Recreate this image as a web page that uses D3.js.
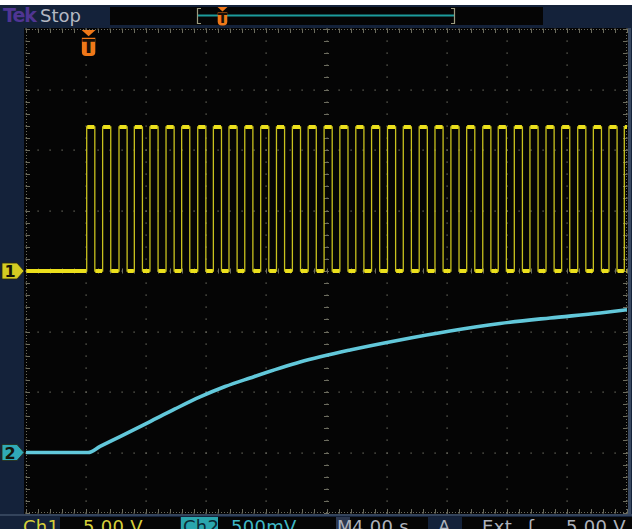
<!DOCTYPE html>
<html>
<head>
<meta charset="utf-8">
<script src="https://cdn.jsdelivr.net/npm/d3@7"></script>
<style>
	body { margin: 0; background: #ffffff; }
	svg { display: block; }
	text { font-family: "DejaVu Sans", sans-serif; }
</style>
</head>
<body>
<div id="scope"></div>
<script>

// time base: 4.00 s/div, trigger one division from the left edge
var timeTicks = [-4, 0, 4, 8, 12, 16, 20, 24, 28, 32, 36];
var divTicks = [-4, -3, -2, -1, 0, 1, 2, 3, 4];

// Ch1 (5.00 V/div): rising edges of the pulse train, seconds after trigger
var ch1Rising = [0.04, 1.10, 2.19, 3.21, 4.25, 5.32, 6.36, 7.43, 8.47, 9.51,
	10.56, 11.62, 12.67, 13.73, 14.78, 15.84, 16.89, 17.95, 19.00, 20.06,
	21.11, 22.17, 23.22, 24.28, 25.33, 26.40, 27.43, 28.50, 29.54, 30.61,
	31.65, 32.72, 33.76, 34.80, 35.82];
var ch1HighTime = 0.54;
var ch1Low = 0;
var ch1High = 11.9;
var ch1VoltsPerDiv = 5;
var ch1Offset = 0;

// Ch2 (500 mV/div): slow rising curve
var ch2Time = [-4, 0.13, 0.93, 2.26, 4.26, 5.92, 7.58, 9.25, 10.91, 14.24, 17.57, 20.89, 24.22, 27.55, 30.88, 34.21, 36];
var ch2Volts = [0, 0, 0.05, 0.132, 0.256, 0.36, 0.459, 0.545, 0.616, 0.748, 0.847, 0.93, 1.004, 1.066, 1.112, 1.153, 1.18];
var ch2VoltsPerDiv = 0.5;
var ch2Offset = -3;

var W = 632, H = 529;
var grid = { left: 26, right: 627, top: 29, bottom: 513 };
var navy = "#14223a";

var svg = d3.select("#scope")
	.append("svg")
	.attr("width", W)
	.attr("height", H);

svg.append("rect")
	.attr("x", 0).attr("y", 5)
	.attr("width", W).attr("height", H - 5)
	.attr("fill", navy);

var x = d3.scaleLinear()
	.domain([-4, 36])
	.range([grid.left, grid.right]);

var yDiv = d3.scaleLinear()
	.domain([-4, 4])
	.range([grid.bottom, grid.top]);

// ---- top status bar
svg.append("rect")
	.attr("x", 110).attr("y", 7)
	.attr("width", 433).attr("height", 18)
	.attr("fill", "#050505");

svg.append("text")
	.attr("x", 3).attr("y", 22)
	.style("font-size", "19px")
	.style("font-weight", "bold")
	.style("letter-spacing", "-1px")
	.attr("fill", "#4f3593")
	.text("Tek");

svg.append("text")
	.attr("x", 40).attr("y", 22)
	.style("font-size", "18px")
	.attr("fill", "#b4b8c2")
	.text("Stop");

svg.append("line")
	.attr("x1", 198).attr("x2", 455)
	.attr("y1", 15.5).attr("y2", 15.5)
	.attr("stroke", "#1c9c9c")
	.attr("stroke-width", 2);

svg.append("path")
	.attr("d", "M201,8.5 H197.5 V23.5 H201 M451,8.5 H454.5 V23.5 H451")
	.attr("fill", "none")
	.attr("stroke", "#9c9c80")
	.attr("stroke-width", 1.2);

function triggerMark(g, cx, top, size) {
	g.append("path")
		.attr("d", "M" + (cx - size * 0.5) + "," + top + " H" + (cx + size * 0.5) + " L" + cx + "," + (top + size * 0.45) + " Z")
		.attr("fill", "#f07818");
	var bx = cx - size * 0.48, by = top + size * 0.55, bw = size * 0.96, bh = size * 1.3;
	g.append("path")
		.attr("d", "M" + bx + "," + by + " H" + (bx + bw) + " V" + (by + bh - 4) +
			" Q" + (bx + bw) + "," + (by + bh) + " " + (bx + bw - 4) + "," + (by + bh) +
			" H" + (bx + 4) + " Q" + bx + "," + (by + bh) + " " + bx + "," + (by + bh - 4) + " Z")
		.attr("fill", "#f07818");
	g.append("text")
		.attr("x", cx).attr("y", by + bh - 3)
		.attr("text-anchor", "middle")
		.style("font-size", (bh + 1) + "px")
		.style("font-weight", "bold")
		.attr("fill", "#1a1008")
		.text("T");
}

triggerMark(svg.append("g"), 222.5, 7, 10);

// ---- graticule
svg.append("rect")
	.attr("x", grid.left - 2).attr("y", grid.top - 1)
	.attr("width", grid.right - grid.left + 3).attr("height", grid.bottom - grid.top + 2)
	.attr("fill", "#050505");

var gridG = svg.append("g").attr("fill", "#77776a");
var minor = d3.range(-4, 36.01, 0.8);
var minorY = d3.range(-4, 4.01, 0.2);

// dotted division lines
timeTicks.forEach(function (t) {
	minorY.forEach(function (d) {
		gridG.append("rect")
			.attr("x", Math.round(x(t)) - 0.5).attr("y", Math.round(yDiv(d)) - 0.5)
			.attr("width", 1.2).attr("height", 1.2);
	});
});
divTicks.forEach(function (d) {
	minor.forEach(function (t) {
		gridG.append("rect")
			.attr("x", Math.round(x(t)) - 0.5).attr("y", Math.round(yDiv(d)) - 0.5)
			.attr("width", 1.2).attr("height", 1.2);
	});
});

// border and centre lines with minor ticks
var tickG = svg.append("g")
	.attr("stroke", "#6c6c5e")
	.attr("stroke-width", 1);

[grid.top + 0.5, grid.bottom - 0.5].forEach(function (yy) {
	tickG.append("line")
		.attr("x1", grid.left).attr("x2", grid.right)
		.attr("y1", yy).attr("y2", yy)
		.attr("stroke-dasharray", "1,2");
});
[grid.left + 0.5, grid.right - 0.5].forEach(function (xx) {
	tickG.append("line")
		.attr("x1", xx).attr("x2", xx)
		.attr("y1", grid.top).attr("y2", grid.bottom)
		.attr("stroke-dasharray", "1,2");
});

minor.forEach(function (t) {
	var xx = Math.round(x(t)) + 0.5;
	tickG.append("line").attr("x1", xx).attr("x2", xx).attr("y1", grid.top).attr("y2", grid.top + 4);
	tickG.append("line").attr("x1", xx).attr("x2", xx).attr("y1", grid.bottom - 4).attr("y2", grid.bottom);
	tickG.append("line").attr("x1", xx).attr("x2", xx).attr("y1", yDiv(0) - 2.5).attr("y2", yDiv(0) + 2.5);
});
minorY.forEach(function (d) {
	var yy = Math.round(yDiv(d)) + 0.5;
	tickG.append("line").attr("y1", yy).attr("y2", yy).attr("x1", grid.left).attr("x2", grid.left + 4);
	tickG.append("line").attr("y1", yy).attr("y2", yy).attr("x1", grid.right - 4).attr("x2", grid.right);
	tickG.append("line").attr("y1", yy).attr("y2", yy).attr("x1", x(16) - 2.5).attr("x2", x(16) + 2.5);
});

svg.append("rect")
	.attr("x", grid.right + 1).attr("y", grid.top - 1)
	.attr("width", 3).attr("height", grid.bottom - grid.top + 2)
	.attr("fill", "#3a4a62");

// ---- traces
svg.append("clipPath")
	.attr("id", "screen")
	.append("rect")
	.attr("x", grid.left).attr("y", grid.top)
	.attr("width", grid.right - grid.left).attr("height", grid.bottom - grid.top);

var traces = svg.append("g").attr("clip-path", "url(#screen)");

function ch1Y(v) { return yDiv(v / ch1VoltsPerDiv + ch1Offset); }
function ch2Y(v) { return yDiv(v / ch2VoltsPerDiv + ch2Offset); }

var ch1Points = [[-4, ch1Low]];
ch1Rising.forEach(function (r) {
	ch1Points.push([r, ch1Low], [r, ch1High], [r + ch1HighTime, ch1High], [r + ch1HighTime, ch1Low]);
});
ch1Points.push([36, ch1Low]);

traces.append("path")
	.datum(ch1Points)
	.attr("fill", "none")
	.attr("stroke", "#c9c21e")
	.attr("stroke-width", 1.3)
	.attr("d", d3.line()
		.x(function (d) { return x(d[0]); })
		.y(function (d) { return ch1Y(d[1]); }));

// plateaus are drawn thicker, like the noisy flat parts of the trace
var plateaus = [];
for (var i = 0; i < ch1Points.length - 1; i++) {
	if (ch1Points[i][1] === ch1Points[i + 1][1] && ch1Points[i][0] !== ch1Points[i + 1][0]) {
		plateaus.push([ch1Points[i], ch1Points[i + 1]]);
	}
}
traces.selectAll(".plateau")
	.data(plateaus)
	.enter()
	.append("line")
	.attr("class", "plateau")
	.attr("x1", function (d) { return x(d[0][0]) + 0.5; })
	.attr("x2", function (d) { return x(d[1][0]) - 0.5; })
	.attr("y1", function (d) { return ch1Y(d[0][1]); })
	.attr("y2", function (d) { return ch1Y(d[1][1]); })
	.attr("stroke", "#ece01c")
	.attr("stroke-width", 4);

var ch2Points = ch2Time.map(function (t, k) { return [t, ch2Volts[k]]; });

traces.append("path")
	.datum(ch2Points)
	.attr("fill", "none")
	.attr("stroke", "#62c8da")
	.attr("stroke-width", 3.6)
	.attr("stroke-linejoin", "round")
	.attr("d", d3.line()
		.curve(d3.curveMonotoneX)
		.x(function (d) { return x(d[0]); })
		.y(function (d) { return ch2Y(d[1]); }));

// trigger position marker
triggerMark(svg.append("g"), x(0) + 2.5, grid.top + 1, 14);

// ---- channel ground markers
function chanMark(label, yy, fill) {
	svg.append("path")
		.attr("d", "M2," + (yy - 8) + " H17 L24," + yy + " L17," + (yy + 8) + " H2 Z")
		.attr("fill", fill)
		.attr("stroke", "#2a2a10")
		.attr("stroke-width", 0.8);
	svg.append("text")
		.attr("x", 10).attr("y", yy + 6)
		.attr("text-anchor", "middle")
		.style("font-size", "16px")
		.style("font-weight", "bold")
		.attr("fill", "#141408")
		.text(label);
}
chanMark("1", ch1Y(0), "#d4cc22");
chanMark("2", ch2Y(0), "#30aab6");

// ---- bottom readout
svg.append("rect")
	.attr("x", 0).attr("y", grid.bottom + 1)
	.attr("width", W).attr("height", 2)
	.attr("fill", "#34445c");

var blackBoxes = [[60, 120], [218, 119], [350, 78], [462, 170]];
blackBoxes.forEach(function (b) {
	svg.append("rect")
		.attr("x", b[0]).attr("y", 517)
		.attr("width", b[1]).attr("height", 12)
		.attr("fill", "#050505");
});

svg.append("rect").attr("x", 181).attr("y", 517).attr("width", 37).attr("height", 12).attr("fill", "#2aa6ae");
svg.append("rect").attr("x", 336).attr("y", 517).attr("width", 14).attr("height", 12).attr("fill", "#2c3850");

var readouts = [
	{ x: 23, text: "Ch1", color: "#d6d03a" },
	{ x: 83, text: "5.00 V", color: "#d6d03a" },
	{ x: 183, text: "Ch2", color: "#0c2a36" },
	{ x: 231, text: "500mV", color: "#3fb8c6" },
	{ x: 337, text: "M", color: "#aeb2bc" },
	{ x: 352, text: "4.00 s", color: "#aeb2bc" },
	{ x: 438, text: "A", color: "#aeb2bc" },
	{ x: 482, text: "Ext", color: "#aeb2bc" },
	{ x: 528, text: "ʃ", color: "#aeb2bc" },
	{ x: 566, text: "5.00 V", color: "#aeb2bc" }
];

svg.selectAll(".readout")
	.data(readouts)
	.enter()
	.append("text")
	.attr("class", "readout")
	.attr("x", function (d) { return d.x; })
	.attr("y", 533)
	.style("font-size", "18px")
	.style("letter-spacing", "0.3px")
	.attr("fill", function (d) { return d.color; })
	.text(function (d) { return d.text; });

</script>
</body>
</html>
